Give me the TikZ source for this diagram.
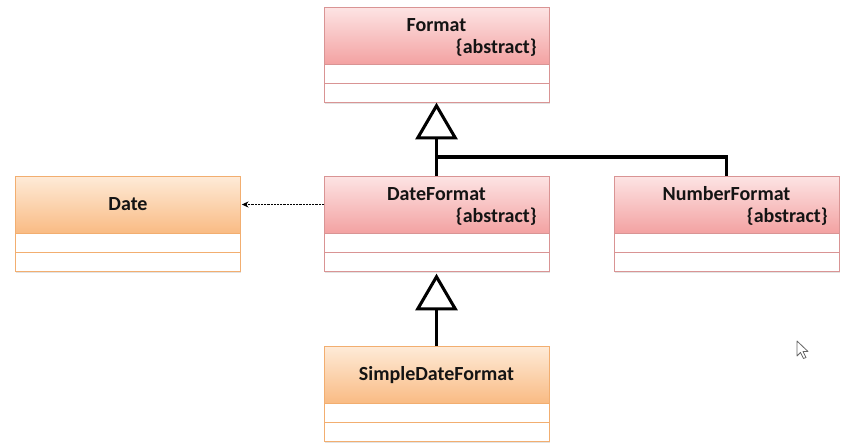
\documentclass[tikz,border=0pt]{standalone}
\usepackage{fontspec}
\setmainfont{Carlito}
\usetikzlibrary{arrows.meta,shadows}
\definecolor{pinktop}{HTML}{FDE4E4}
\definecolor{pinkbot}{HTML}{F3A2A2}
\definecolor{pinkline}{HTML}{D99494}
\definecolor{orgtop}{HTML}{FEEBD8}
\definecolor{orgbot}{HTML}{F9BB84}
\definecolor{orgline}{HTML}{F2AE70}
\begin{document}
\begin{tikzpicture}[x=0.75pt,y=-0.75pt,
  classbox/.style={minimum width=168.75pt, minimum height=71.25pt, inner sep=0pt, outer sep=0pt,
    fill=white, drop shadow={shadow xshift=0.6pt, shadow yshift=-1.4pt, opacity=0.22}},
  head/.style={minimum width=168.75pt, minimum height=42.75pt, inner sep=0pt, outer sep=0pt, line width=0.7pt},
  comp/.style={minimum width=168.75pt, minimum height=14.25pt, inner sep=0pt, outer sep=0pt, line width=0.7pt, fill=white},
  pinkhead/.style={head, draw=pinkline, top color=pinktop, bottom color=pinkbot},
  pinkcomp/.style={comp, draw=pinkline},
  orghead/.style={head, draw=orgline, top color=orgtop, bottom color=orgbot},
  orgcomp/.style={comp, draw=orgline},
  clsname/.style={font=\bfseries\fontsize{15pt}{17pt}\selectfont, inner sep=0pt, text=black!92},
  gen/.style={line width=2.3pt, -{Triangle[open, length=27.5pt, width=31.5pt, line width=2.3pt]}},
  tree/.style={line width=2.3pt},
  dep/.style={line width=0.6pt, dash pattern=on 1.6pt off 0.8pt, -{Stealth[length=5pt, width=4.5pt]}}
]
\useasboundingbox (0,0) rectangle (849,443);
\fill[white] (0,0) rectangle (849,443);

% Format
\node[classbox] (formatbox) at (436.5,54.5) {};
\node[pinkhead, anchor=north] (formathead) at (formatbox.north) {};
\node[pinkcomp, anchor=north] (formatattr) at (formathead.south) {};
\node[pinkcomp, anchor=north] (formatops) at (formatattr.south) {};
\node[clsname, anchor=base] (formatname) at (436.5,31) {Format};
\node[clsname, anchor=base east] (formatabs) at (537,53) {\{abstract\}};

% DateFormat
\node[classbox] (dateformatbox) at (436.5,223.5) {};
\node[pinkhead, anchor=north] (dateformathead) at (dateformatbox.north) {};
\node[pinkcomp, anchor=north] (dateformatattr) at (dateformathead.south) {};
\node[pinkcomp, anchor=north] (dateformatops) at (dateformatattr.south) {};
\node[clsname, anchor=base] (dateformatname) at (436.5,200) {DateFormat};
\node[clsname, anchor=base east] (dateformatabs) at (537,222) {\{abstract\}};

% NumberFormat
\node[classbox] (numberformatbox) at (726.5,223.5) {};
\node[pinkhead, anchor=north] (numberformathead) at (numberformatbox.north) {};
\node[pinkcomp, anchor=north] (numberformatattr) at (numberformathead.south) {};
\node[pinkcomp, anchor=north] (numberformatops) at (numberformatattr.south) {};
\node[clsname, anchor=base] (numberformatname) at (726.5,200) {NumberFormat};
\node[clsname, anchor=base east] (numberformatabs) at (828,222) {\{abstract\}};

% Date
\node[classbox] (datebox) at (128,223.5) {};
\node[orghead, anchor=north] (datehead) at (datebox.north) {};
\node[orgcomp, anchor=north] (dateattr) at (datehead.south) {};
\node[orgcomp, anchor=north] (dateops) at (dateattr.south) {};
\node[clsname, anchor=base] (datename) at (128,210) {Date};

% SimpleDateFormat
\node[classbox] (sdfbox) at (436.5,393.5) {};
\node[orghead, anchor=north] (sdfhead) at (sdfbox.north) {};
\node[orgcomp, anchor=north] (sdfattr) at (sdfhead.south) {};
\node[orgcomp, anchor=north] (sdfops) at (sdfattr.south) {};
\node[clsname, anchor=base] (sdfname) at (436.5,380) {SimpleDateFormat};

% connectors
\coordinate (join) at (436.5,157);
\draw[tree] (numberformatbox.north) |- (join);
\draw[gen] (dateformatbox.north) -- ([yshift=-0.5pt]formatbox.south);
\draw[gen] (sdfbox.north) -- ([yshift=-2pt]dateformatbox.south);
\draw[dep] (dateformathead.west) -- ([xshift=1pt]datehead.east);

% mouse pointer
\filldraw[draw=black!60, fill=white, line width=0.6pt, line join=round]
  (797,341) -- (797,356) -- (800.5,352.5) -- (803.5,358.5) -- (806,357.5) -- (803,351.5) -- (808,351.5) -- cycle;
\end{tikzpicture}
\end{document}
